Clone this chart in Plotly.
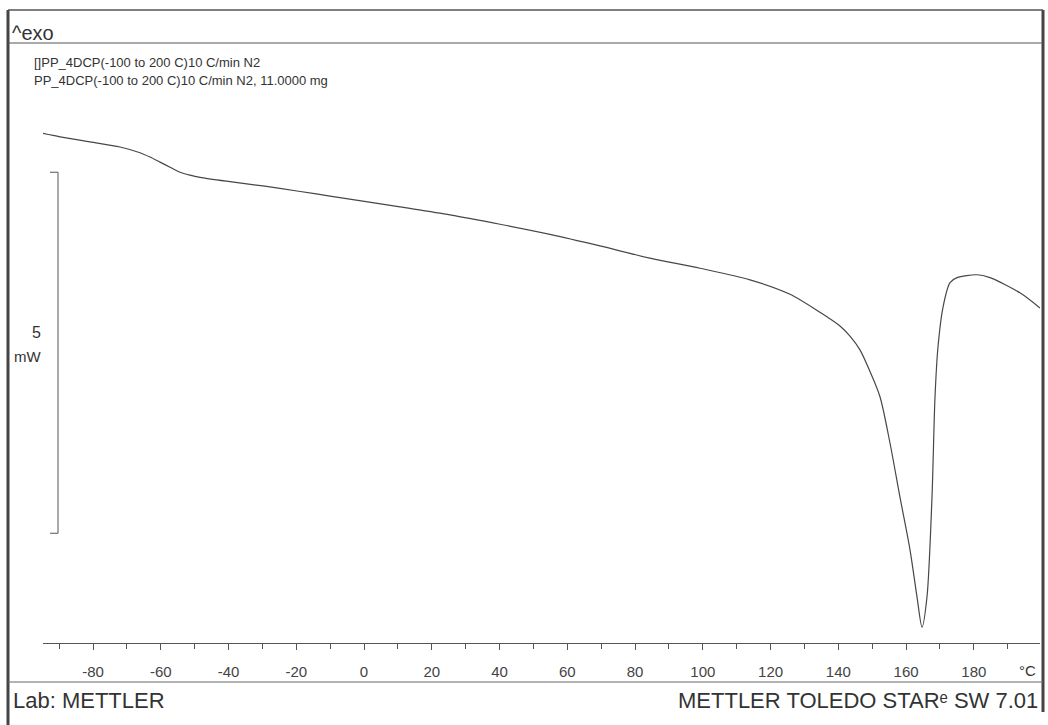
import plotly.graph_objects as go

# DSC heating scan of PP_4DCP: temperature (°C) and heat flow (mW, arbitrary offset)
temperature_c = [
    -95.05, -89.74, -80.89, -72.03, -66.13, -63.18, -60.22, -57.27, -54.32,
    -51.37, -48.42, -39.56, -29.82, -19.79, -10.05, 10.61, 25.37, 40.13,
    54.89, 69.64, 84.40, 99.16, 113.92, 125.73, 134.58, 140.48, 143.43, 146.38,
    149.34, 152.29, 155.24, 158.19, 161.15, 163.21, 164.69, 166.17, 167.64,
    168.53, 169.41, 170.89, 172.95, 175.02, 180.92, 184.76, 193.61, 199.50,
]
heat_flow_mw = [
    5.06, 5.01, 4.94, 4.87, 4.79, 4.73, 4.66, 4.59, 4.52,
    4.48, 4.45, 4.39, 4.33, 4.26, 4.19, 4.04, 3.93, 3.80,
    3.66, 3.50, 3.33, 3.19, 3.03, 2.83, 2.58, 2.39, 2.25, 2.06,
    1.76, 1.41, 0.77, 0.02, -0.71, -1.36, -1.78, -1.36, 0.02,
    1.41, 2.10, 2.65, 2.99, 3.06, 3.10, 3.06, 2.85, 2.64,
]

major_ticks = [-80, -60, -40, -20, 0, 20, 40, 60, 80, 100, 120, 140, 160, 180]
major_labels = [str(t) for t in major_ticks]
minor_ticks = [-90, -70, -50, -30, -10, 10, 30, 50, 70, 90, 110, 130, 150, 170, 190]

scale_bar_mw = 5
scale_bar_top = 4.52

header_text = "^exo"
curve_titles = [
    "[]PP_4DCP(-100 to 200 C)10 C/min N2",
    "PP_4DCP(-100 to 200 C)10 C/min N2, 11.0000 mg",
]
footer_left = "Lab: METTLER"
footer_right = "METTLER TOLEDO STAR\u1d49 SW 7.01"

W, H = 1048, 725


def px(x):
    return x / W


def py(y):
    return 1 - y / H


TEXT = "#333333"
FONT = "Liberation Sans, Arial, DejaVu Sans, sans-serif"
NARROW = "Liberation Sans Narrow, Arial Narrow, Liberation Sans, sans-serif"

fig = go.Figure()
fig.add_trace(go.Scatter(
    x=temperature_c, y=heat_flow_mw, mode="lines",
    line=dict(color="#474747", width=1.2, shape="spline", smoothing=0.8),
    hoverinfo="skip", showlegend=False,
))

fig.update_layout(
    width=W, height=H,
    margin=dict(l=0, r=0, t=0, b=0),
    paper_bgcolor="white", plot_bgcolor="white",
    showlegend=False,
    xaxis=dict(
        domain=[px(43), px(1040)],
        range=[-94.76, 199.52],
        showgrid=False, zeroline=False,
        showline=True, linecolor="#555555", linewidth=1,
        tickmode="array", tickvals=major_ticks, ticktext=major_labels,
        ticks="outside", ticklen=6, tickwidth=1, tickcolor="#555555",
        ticklabelstandoff=9,
        tickfont=dict(family=NARROW, size=15, color="#444444"),
        minor=dict(tickmode="array", tickvals=minor_ticks, ticks="outside",
                   ticklen=5, tickwidth=1, tickcolor="#555555"),
    ),
    yaxis=dict(
        domain=[py(643), py(43)],
        range=[-2, 6.31],
        visible=False,
    ),
)

# Frame of the report page
frame = [
    dict(x0=px(8), x1=px(8), y0=py(10), y1=py(725), w=3, c="#444444"),
    dict(x0=px(1043), x1=px(1043), y0=py(10), y1=py(712), w=3, c="#444444"),
    dict(x0=px(8), x1=px(1043), y0=py(10), y1=py(10), w=1.5, c="#555555"),
    dict(x0=px(8), x1=px(1043), y0=py(43), y1=py(43), w=1, c="#555555"),
    dict(x0=px(8), x1=px(1043), y0=py(682), y1=py(682), w=1, c="#666666"),
]
for f in frame:
    fig.add_shape(type="line", xref="paper", yref="paper",
                  x0=f["x0"], x1=f["x1"], y0=f["y0"], y1=f["y1"],
                  line=dict(color=f["c"], width=f["w"]))

# 5 mW scale bar
bar_bottom = scale_bar_top - scale_bar_mw
fig.add_shape(type="line", xref="paper", yref="y",
              x0=px(58), x1=px(58), y0=bar_bottom, y1=scale_bar_top,
              line=dict(color="#555555", width=1))
for yv in (bar_bottom, scale_bar_top):
    fig.add_shape(type="line", xref="paper", yref="y",
                  x0=px(50), x1=px(58), y0=yv, y1=yv,
                  line=dict(color="#555555", width=1))

ann = [
    dict(text=header_text, x=px(10), y=py(33), xanchor="left", size=20, fam=FONT),
    dict(text=curve_titles[0], x=px(32), y=py(63), xanchor="left", size=13, fam=NARROW),
    dict(text=curve_titles[1], x=px(32), y=py(80), xanchor="left", size=13, fam=NARROW),
    dict(text=str(scale_bar_mw), x=px(43), y=py(333), xanchor="right", size=16, fam=FONT),
    dict(text="mW", x=px(43), y=py(356), xanchor="right", size=15, fam=FONT),
    dict(text="°C", x=px(1027), y=py(670), xanchor="center", size=15, fam=NARROW),
    dict(text=footer_left, x=px(11), y=py(700), xanchor="left", size=22, fam=FONT),
    dict(text=footer_right, x=px(1040), y=py(700), xanchor="right", size=22, fam=FONT),
]
for a in ann:
    fig.add_annotation(text=a["text"], xref="paper", yref="paper",
                       x=a["x"], y=a["y"], xanchor=a["xanchor"], yanchor="middle",
                       showarrow=False,
                       font=dict(family=a["fam"], size=a["size"], color=TEXT))

fig.write_html("out.html")
